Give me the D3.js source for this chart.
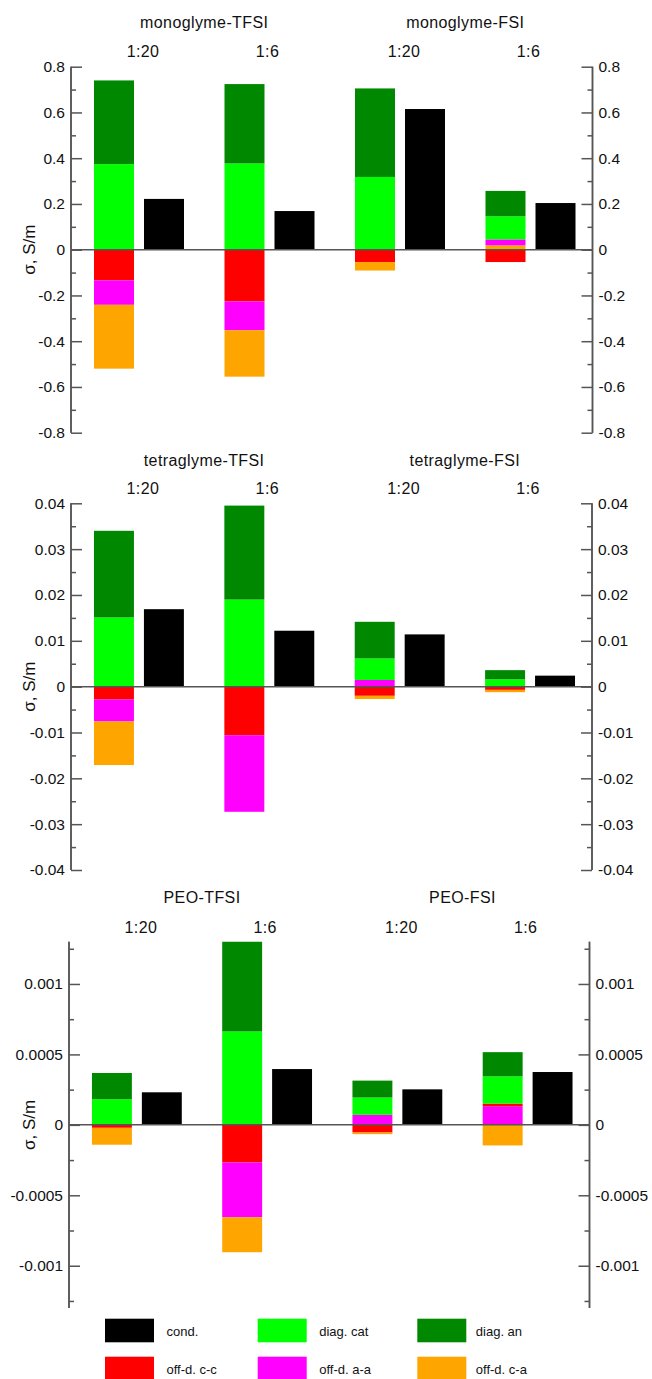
<!DOCTYPE html>
<meta charset="utf-8">
<style>
    body {
        margin: 0;
        background: #fff;
    }

    svg {
        font-family: "Liberation Sans", Arial, sans-serif;
    }

    .axis path,
    .axis line {
        fill: none;
        stroke: #555;
        stroke-width: 1.5px;
    }

    .axis text {
        font-size: 15.5px;
        fill: #111;
    }

    .zero {
        stroke: #555;
        stroke-width: 1.5px;
    }

    .label {
        font-size: 16px;
        letter-spacing: 0.4px;
        fill: #111;
    }
</style>
<body>
<script src="https://d3js.org/d3.v7.min.js"></script>
<script>
    // systems and salt ratios, two systems per panel
    const systems = ["monoglyme-TFSI", "monoglyme-FSI", "tetraglyme-TFSI", "tetraglyme-FSI", "PEO-TFSI", "PEO-FSI"]
    const ratios = ["1:20", "1:6"]

    // one value per (system, ratio), in the order above
    const cond    = [0.222, 0.169, 0.615, 0.204, 0.0169, 0.0122, 0.0114, 0.0024, 0.000231, 0.000396, 0.000252, 0.000375]
    const diagCat = [0.374, 0.377, 0.318, 0.101, 0.0151, 0.0190, 0.0047, 0.0016, 0.000182, 0.000663, 0.000123, 0.000193]
    const diagAn  = [0.366, 0.347, 0.387, 0.111, 0.0189, 0.0205, 0.0080, 0.0020, 0.000186, 0.00065, 0.000120, 0.000172]
    const offCC   = [-0.134, -0.226, -0.054, -0.054, -0.0028, -0.0106, -0.0020, -0.0007, -0.000021, -0.000267, -0.000054, 0.000019]
    const offAA   = [-0.107, -0.126, 0, 0.026, -0.0048, -0.0167, 0.00145, 0, 0, -0.000389, 0.000071, 0.000132]
    const offCA   = [-0.279, -0.203, -0.037, 0.019, -0.0095, 0, -0.0007, -0.0005, -0.00012, -0.000248, -0.000012, -0.000146]

    // y axes
    const yDomains = [[-0.8, 0.8], [-0.04, 0.04], [-0.0013, 0.0013]]
    const majorTicks = [
        [-0.8, -0.6, -0.4, -0.2, 0, 0.2, 0.4, 0.6, 0.8],
        [-0.04, -0.03, -0.02, -0.01, 0, 0.01, 0.02, 0.03, 0.04],
        [-0.001, -0.0005, 0, 0.0005, 0.001]
    ]
    const minorTicks = [
        [-0.7, -0.5, -0.3, -0.1, 0.1, 0.3, 0.5, 0.7],
        [-0.035, -0.025, -0.015, -0.005, 0.005, 0.015, 0.025, 0.035],
        [-0.00125, -0.00075, -0.00025, 0.00025, 0.00075, 0.00125]
    ]

    const legendKeys = ["cond", "cat", "an", "cc", "aa", "ca"]
    const legendLabels = ["cond.", "diag. cat", "diag. an", "off-d. c-c", "off-d. a-a", "off-d. c-a"]

    const colors = {
        cond: "#000000",
        cat: "#00ff00",
        an: "#008800",
        cc: "#ff0000",
        aa: "#ff00ff",
        ca: "#ffa500"
    }

    // positive parts stack from zero in this order, negative parts in the other
    const posKeys = ["ca", "aa", "cc", "cat", "an"]
    const negKeys = ["cc", "aa", "ca"]

    const rows = []
    systems.forEach((s, si) => ratios.forEach((r, ri) => {
        const k = si * 2 + ri
        rows.push({
            system: s, ratio: r, panel: Math.floor(si / 2), group: (si % 2) * 2 + ri,
            cond: cond[k], cat: diagCat[k], an: diagAn[k], cc: offCC[k], aa: offAA[k], ca: offCA[k]
        })
    }))

    // layout of the three panels
    const layout = [
        {top: 66.7, bottom: 432.7, left: 71, right: 592.5, titleY: 27.5, ratioY: 57},
        {top: 503.3, bottom: 870, left: 71, right: 592, titleY: 466, ratioY: 494},
        {top: 941.7, bottom: 1308, left: 69, right: 589.5, titleY: 903, ratioY: 932.7}
    ]

    const svg = d3.select("body")
        .append("svg")
        .attr("width", 652)
        .attr("height", 1379)

    const fmt = v => String(+v.toFixed(6))

    layout.forEach((p, pi) => {
        const data = rows.filter(d => d.panel === pi)
        const g = svg.append("g")

        const x = d3.scaleLinear().domain([0, 10.43]).range([p.left, p.right])
        const y = d3.scaleLinear().domain(yDomains[pi]).range([p.bottom, p.top])

        const slot = d => 0.86 + 2.61 * d.group

        g.append("clipPath")
            .attr("id", "clip" + pi)
            .append("rect")
            .attr("x", p.left)
            .attr("y", p.top)
            .attr("width", p.right - p.left)
            .attr("height", p.bottom - p.top)

        const bars = g.append("g").attr("clip-path", `url(#clip${pi})`)

        const pos = d3.stack().keys(posKeys).value((d, k) => Math.max(0, d[k])).offset(d3.stackOffsetDiverging)(data)
        const neg = d3.stack().keys(negKeys).value((d, k) => Math.min(0, d[k])).offset(d3.stackOffsetDiverging)(data)

        pos.concat(neg).forEach(series => {
            bars.selectAll(null)
                .data(series.filter(s => s[0] !== s[1]))
                .enter()
                .append("rect")
                .attr("x", s => x(slot(s.data) - 0.4))
                .attr("width", s => x(slot(s.data) + 0.4) - x(slot(s.data) - 0.4))
                .attr("y", s => y(Math.max(s[0], s[1])))
                .attr("height", s => Math.abs(y(s[0]) - y(s[1])))
                .attr("fill", colors[series.key])
        })

        bars.selectAll(null)
            .data(data)
            .enter()
            .append("rect")
            .attr("x", d => x(slot(d) + 0.6))
            .attr("width", d => x(slot(d) + 1.4) - x(slot(d) + 0.6))
            .attr("y", d => y(Math.max(0, d.cond)))
            .attr("height", d => Math.abs(y(d.cond) - y(0)))
            .attr("fill", colors.cond)

        g.append("line")
            .attr("class", "zero")
            .attr("x1", p.left)
            .attr("x2", p.right)
            .attr("y1", y(0))
            .attr("y2", y(0))

        // left axis, ticks pointing in
        g.append("g")
            .attr("class", "axis")
            .attr("transform", `translate(${p.left},0)`)
            .call(d3.axisLeft(y).tickValues(majorTicks[pi]).tickFormat(fmt).tickSizeInner(-11).tickSizeOuter(0).tickPadding(6))
        g.append("g")
            .attr("class", "axis")
            .attr("transform", `translate(${p.left},0)`)
            .call(d3.axisLeft(y).tickValues(minorTicks[pi]).tickFormat("").tickSizeInner(-5).tickSizeOuter(0))

        g.append("g")
            .attr("class", "axis")
            .attr("transform", `translate(${p.right},0)`)
            .call(d3.axisRight(y).tickValues(majorTicks[pi]).tickFormat(fmt).tickSizeInner(-11).tickSizeOuter(0).tickPadding(6))
        g.append("g")
            .attr("class", "axis")
            .attr("transform", `translate(${p.right},0)`)
            .call(d3.axisRight(y).tickValues(minorTicks[pi]).tickFormat("").tickSizeInner(-5).tickSizeOuter(0))

        g.selectAll(".axis .domain").attr("d", `M0,${p.top}V${p.bottom}`)

        // y label
        g.append("text")
            .attr("transform", `translate(35,${(p.top + p.bottom) / 2}) rotate(-90)`)
            .attr("text-anchor", "middle")
            .style("font-size", "17px")
            .style("fill", "#111")
            .text("σ, S/m")

        // ratio labels
        g.selectAll(null)
            .data(data)
            .enter()
            .append("text")
            .attr("class", "label")
            .attr("x", d => x(slot(d) + 0.5 + (d.group % 2 ? -0.04 : 0.08)))
            .attr("y", p.ratioY)
            .attr("text-anchor", "middle")
            .text(d => d.ratio)

        // system titles
        const titles = systems.slice(pi * 2, pi * 2 + 2)
        g.selectAll(null)
            .data(titles)
            .enter()
            .append("text")
            .attr("class", "label")
            .attr("x", (d, i) => x(0.86 + 2.61 * (2 * i + 0.5) + 0.5))
            .attr("y", p.titleY)
            .attr("text-anchor", "middle")
            .text(d => d)
    })

    // legend
    const legendX = [105, 257.7, 417.3]
    const legend = svg.append("g")
        .selectAll("g")
        .data(legendKeys)
        .enter()
        .append("g")
        .attr("transform", (d, i) => `translate(${legendX[i % 3]},${1318.7 + Math.floor(i / 3) * 38})`)

    legend.append("rect")
        .attr("width", 49)
        .attr("height", 23.6)
        .attr("fill", d => colors[d])

    legend.append("text")
        .attr("x", (d, i) => i % 3 === 2 ? 58.5 : 61.5)
        .attr("y", 17.5)
        .style("font-size", "13px")
        .style("fill", "#111")
        .text((d, i) => legendLabels[i])
</script>
